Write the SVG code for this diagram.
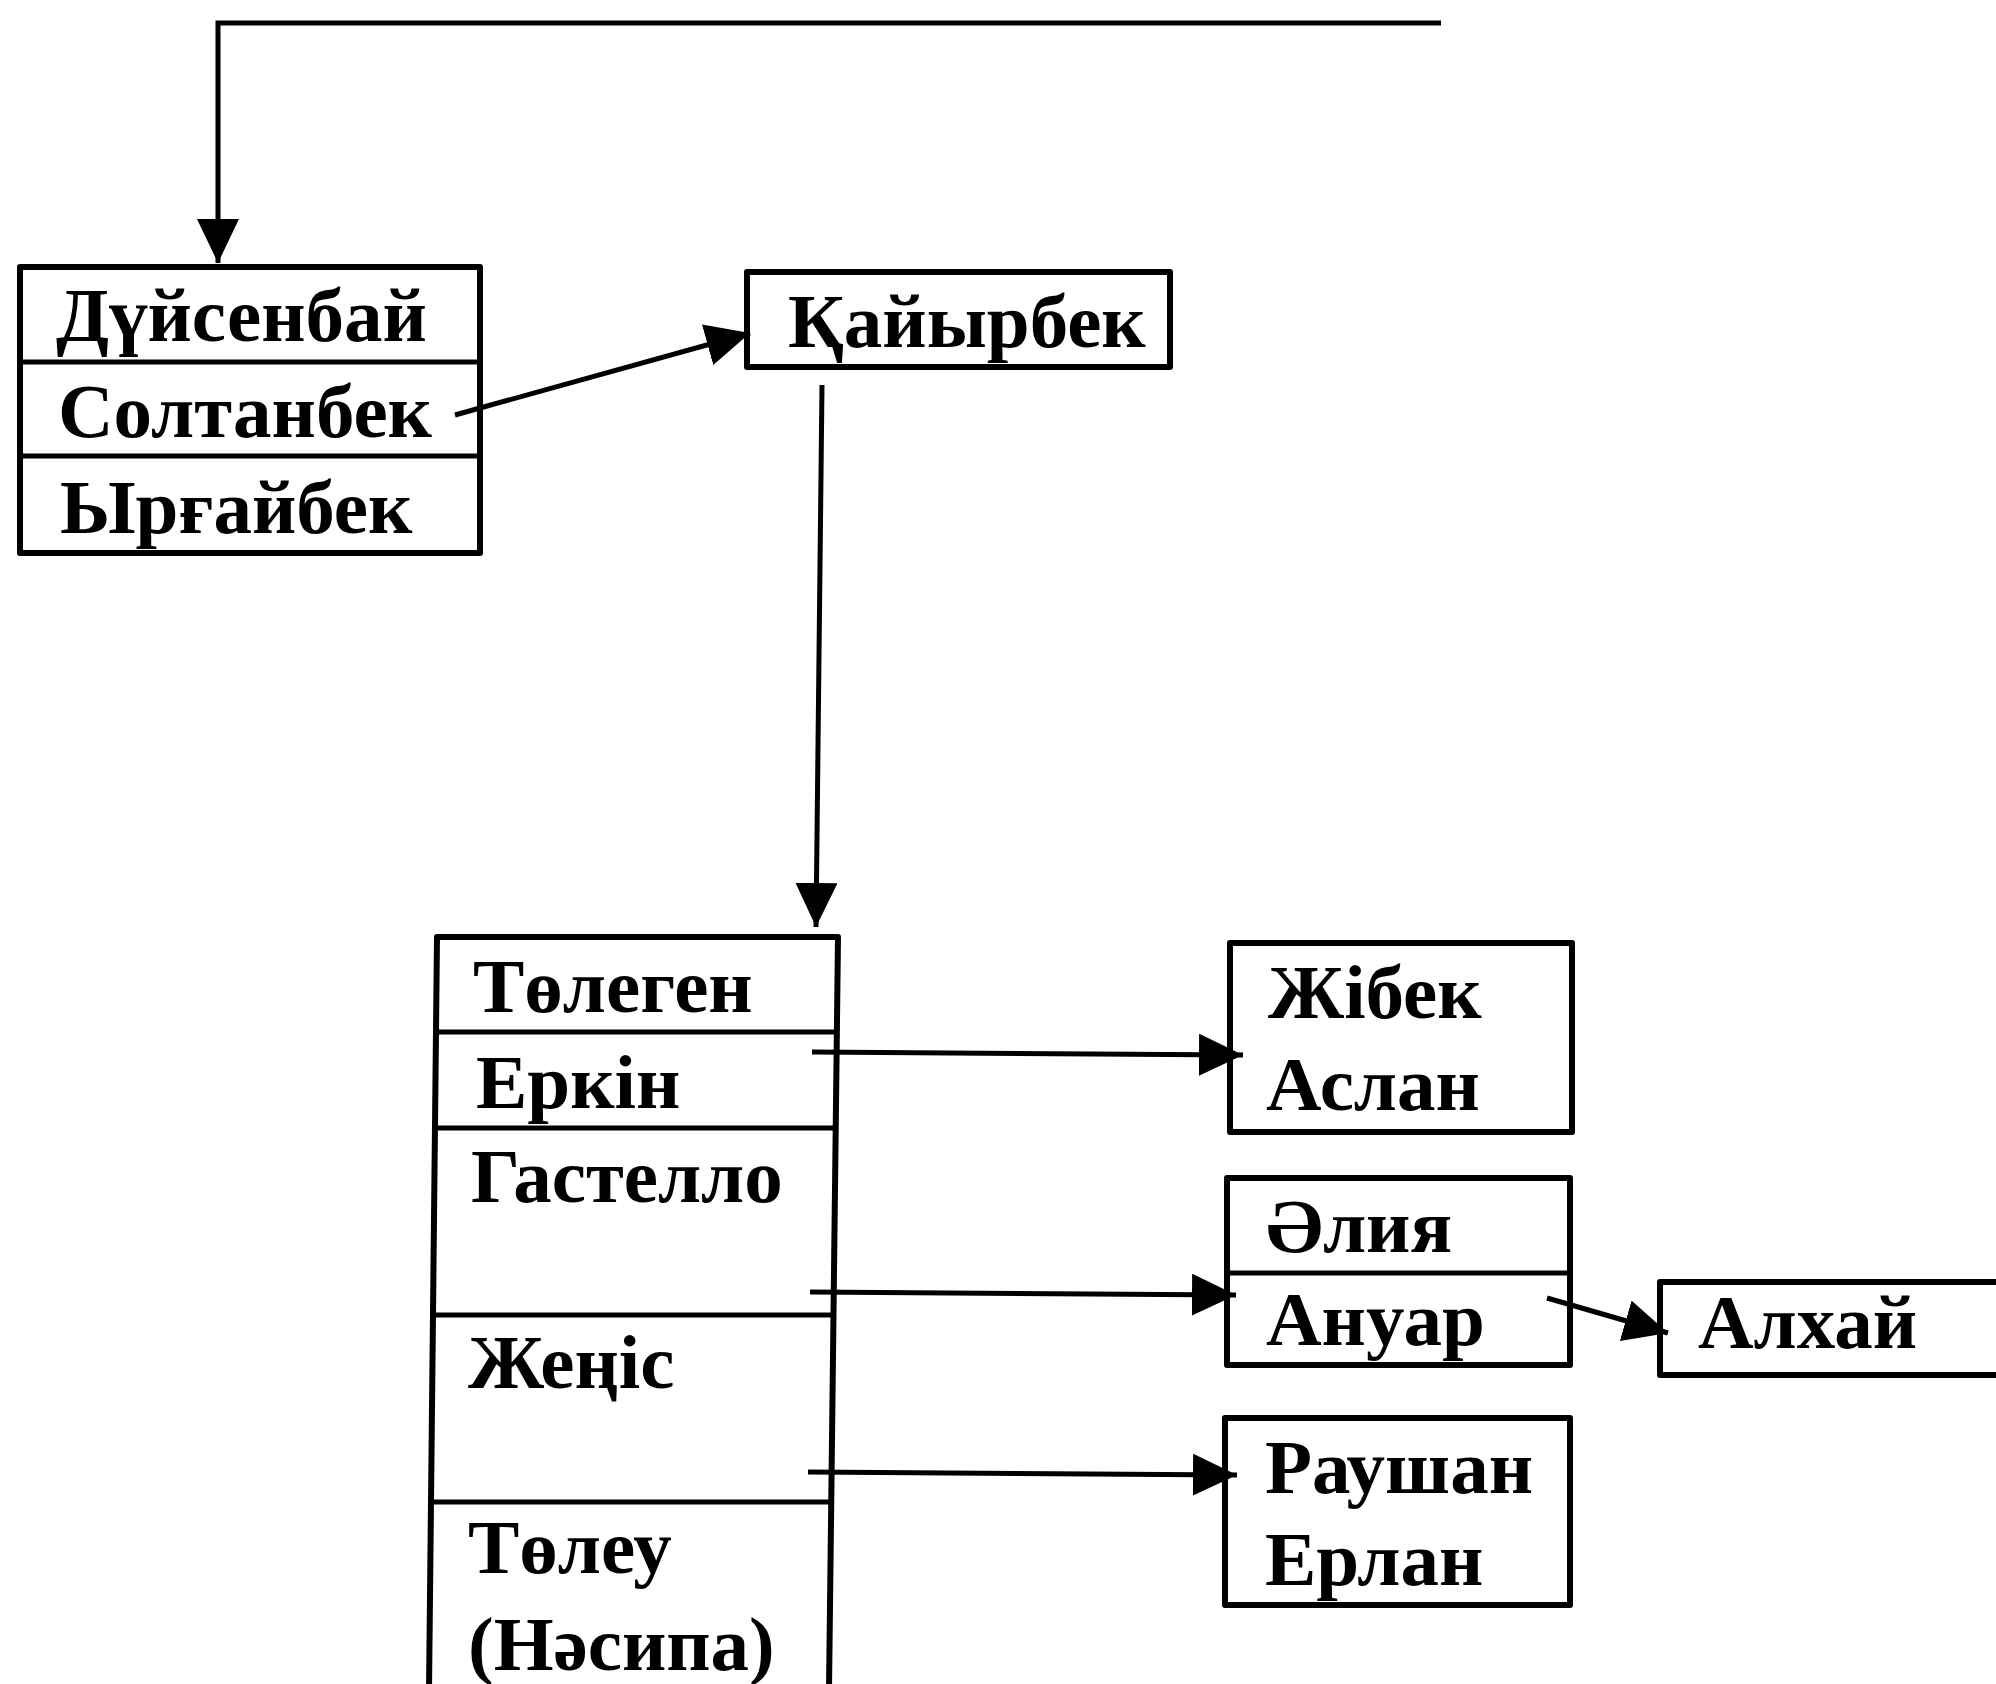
<svg xmlns="http://www.w3.org/2000/svg" width="1996" height="1684" viewBox="0 0 1996 1684">
<style>
.box{fill:none;stroke:#000;stroke-width:6;stroke-linejoin:round}
.ln{fill:none;stroke:#000;stroke-width:5}
.t{font-family:"Liberation Serif","Times New Roman",serif;font-weight:bold;font-size:77px;fill:#000}
</style>
<defs>
<marker id="ah" markerUnits="userSpaceOnUse" markerWidth="46" markerHeight="42" refX="44" refY="21" orient="auto">
<path d="M0,0 L44,21 L0,42 z" fill="#000"/>
</marker>
</defs>
<rect width="1996" height="1684" fill="#fff"/>
<g id="connectors">
<path class="ln" d="M1441,23 L218,23 L218,263" stroke-width="8" marker-end="url(#ah)"/>
<path class="ln" d="M455,415 L750,333" marker-end="url(#ah)"/>
<path class="ln" d="M822,385 L816,927" marker-end="url(#ah)"/>
<path class="ln" d="M812,1052 L1243,1055" marker-end="url(#ah)"/>
<path class="ln" d="M810,1292 L1236,1295" marker-end="url(#ah)"/>
<path class="ln" d="M808,1472 L1237,1475" marker-end="url(#ah)"/>
<path class="ln" d="M1547,1298 L1668,1333" marker-end="url(#ah)"/>
</g>
<g id="node-duisenbai">
<rect class="box" x="20" y="267" width="460" height="286"/>
<line class="ln" x1="20" y1="362" x2="480" y2="362" stroke-width="6"/>
<line class="ln" x1="20" y1="456" x2="480" y2="456" stroke-width="6"/>
<text class="t" x="56" y="341">Дүйсенбай</text>
<text class="t" x="58" y="437">Солтанбек</text>
<text class="t" x="60" y="533">Ырғайбек</text>
</g>
<g id="node-kaiyrbek">
<rect class="box" x="747" y="272" width="423" height="95"/>
<text class="t" x="788" y="347">Қайырбек</text>
</g>
<g id="node-tolegen">
<path class="box" d="M429,1690 L437,937 L838,937 L829,1690"/>
<line class="ln" x1="436" y1="1032" x2="837" y2="1032" stroke-width="6"/>
<line class="ln" x1="435" y1="1128" x2="836" y2="1128" stroke-width="6"/>
<line class="ln" x1="433" y1="1315" x2="834" y2="1315" stroke-width="6"/>
<line class="ln" x1="431" y1="1502" x2="832" y2="1502" stroke-width="6"/>
<text class="t" x="473" y="1012">Төлеген</text>
<text class="t" x="476" y="1108">Еркін</text>
<text class="t" x="471" y="1202">Гастелло</text>
<text class="t" x="468" y="1388">Жеңіс</text>
<text class="t" x="468" y="1573">Төлеу</text>
<text class="t" x="468" y="1670">(Нәсипа)</text>
</g>
<g id="node-zhibek">
<rect class="box" x="1230" y="943" width="342" height="189"/>
<text class="t" x="1268" y="1018">Жібек</text>
<text class="t" x="1266" y="1110">Аслан</text>
</g>
<g id="node-aliya">
<rect class="box" x="1227" y="1178" width="343" height="187"/>
<line class="ln" x1="1227" y1="1273" x2="1570" y2="1273" stroke-width="6"/>
<text class="t" x="1266" y="1252">Әлия</text>
<text class="t" x="1266" y="1345">Ануар</text>
</g>
<g id="node-raushan">
<rect class="box" x="1225" y="1418" width="345" height="187"/>
<text class="t" x="1265" y="1493">Раушан</text>
<text class="t" x="1265" y="1585">Ерлан</text>
</g>
<g id="node-alkhai">
<path class="box" d="M2000,1282 L1660,1282 L1660,1375 L2000,1375"/>
<text class="t" x="1698" y="1348">Алхай</text>
</g>
</svg>
